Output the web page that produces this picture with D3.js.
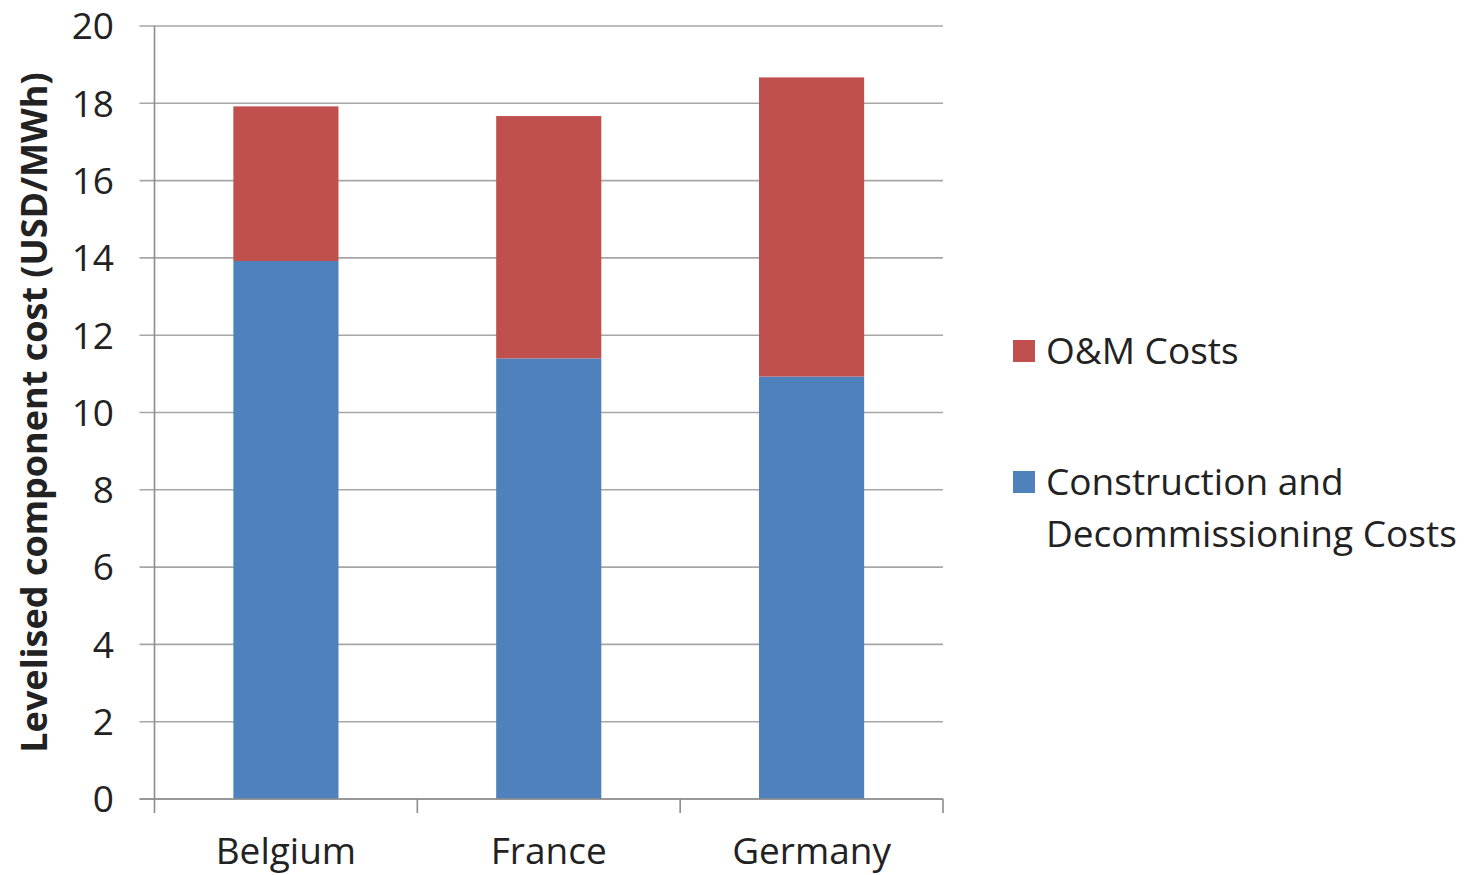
<!DOCTYPE html>
<html>
<head>
<meta charset="utf-8">
<script src="https://cdn.jsdelivr.net/npm/d3@7"></script>
<style>
  html, body { margin: 0; padding: 0; background: #fff; }
  svg { display: block; }
  text { font-family: "Open Sans", "Liberation Sans", sans-serif; fill: #222; }
</style>
</head>
<body>
<svg id="chart" width="1464" height="875"></svg>
<script>
// Levelised component cost per country (USD/MWh)
const countries = ["Belgium", "France", "Germany"];
const constructionCosts = [13.92, 11.40, 10.93];
const omCosts = [4.00, 6.27, 7.74];
const seriesNames = ["Construction and Decommissioning Costs", "O&M Costs"];
const seriesColors = ["#4F81BD", "#C0504D"];
const yTicks = [0, 2, 4, 6, 8, 10, 12, 14, 16, 18, 20];

const svg = d3.select("#chart");
const plot = { left: 154.5, right: 943, top: 26, bottom: 799 };

const x = d3.scaleBand()
  .domain(countries)
  .range([plot.left, plot.right])
  .paddingInner(0.6)
  .paddingOuter(0.3);

const y = d3.scaleLinear().domain([0, 20]).range([plot.bottom, plot.top]);

const rows = countries.map((c, i) => ({
  country: c,
  construction: constructionCosts[i],
  om: omCosts[i]
}));
const stacked = d3.stack().keys(["construction", "om"])(rows);

// horizontal gridlines, extended left past the axis as tick marks
svg.append("g")
  .selectAll("line")
  .data(yTicks)
  .join("line")
  .attr("x1", plot.left - 15)
  .attr("x2", plot.right)
  .attr("y1", d => y(d))
  .attr("y2", d => y(d))
  .attr("stroke", "#a6a6a6")
  .attr("stroke-width", 1.6);

// stacked bars
svg.append("g")
  .selectAll("g")
  .data(stacked)
  .join("g")
  .attr("fill", (d, i) => seriesColors[i])
  .selectAll("rect")
  .data(d => d)
  .join("rect")
  .attr("x", d => x(d.data.country))
  .attr("width", x.bandwidth())
  .attr("y", d => y(d[1]))
  .attr("height", d => y(d[0]) - y(d[1]));

// y axis line
svg.append("line")
  .attr("x1", plot.left).attr("x2", plot.left)
  .attr("y1", plot.top).attr("y2", plot.bottom + 14)
  .attr("stroke", "#8c8c8c").attr("stroke-width", 1.6);

// x axis line with category separator ticks
svg.append("line")
  .attr("x1", plot.left - 15).attr("x2", plot.right)
  .attr("y1", plot.bottom).attr("y2", plot.bottom)
  .attr("stroke", "#8c8c8c").attr("stroke-width", 1.6);

const step = x.step();
const boundaries = countries.map((c, i) => x(c) - x.paddingInner() * step / 2 + step)
  .slice(0, countries.length - 1)
  .concat([plot.right]);
svg.append("g")
  .selectAll("line")
  .data(boundaries)
  .join("line")
  .attr("x1", d => d).attr("x2", d => d)
  .attr("y1", plot.bottom).attr("y2", plot.bottom + 14)
  .attr("stroke", "#8c8c8c").attr("stroke-width", 1.6);

// y tick labels
svg.append("g")
  .selectAll("text")
  .data(yTicks)
  .join("text")
  .attr("x", 114)
  .attr("y", d => y(d))
  .attr("dy", "0.36em")
  .attr("text-anchor", "end")
  .style("font-size", "37px")
  .text(d => d);

// category labels
svg.append("g")
  .selectAll("text")
  .data(countries)
  .join("text")
  .attr("x", d => x(d) + x.bandwidth() / 2)
  .attr("y", 864)
  .attr("text-anchor", "middle")
  .style("font-size", "37px")
  .text(d => d);

// y axis title
svg.append("text")
  .attr("transform", `translate(47, ${(plot.top + plot.bottom) / 2}) rotate(-90)`)
  .attr("text-anchor", "middle")
  .style("font-size", "36px")
  .style("font-weight", "bold")
  .text("Levelised component cost (USD/MWh)");

// legend
const legendItems = [
  { name: "O&M Costs", color: seriesColors[1], lines: ["O&M Costs"], y: 340 },
  { name: seriesNames[0], color: seriesColors[0], lines: ["Construction and", "Decommissioning Costs"], y: 471 }
];
const legend = svg.append("g");
legendItems.forEach(item => {
  legend.append("rect")
    .attr("x", 1013).attr("y", item.y)
    .attr("width", 22).attr("height", 22)
    .attr("fill", item.color);
  const t = legend.append("text")
    .attr("x", 1046)
    .attr("y", item.y + 24)
    .style("font-size", "37px");
  item.lines.forEach((ln, j) => {
    t.append("tspan")
      .attr("x", 1046)
      .attr("dy", j === 0 ? 0 : 52)
      .text(ln);
  });
});
</script>
</body>
</html>
